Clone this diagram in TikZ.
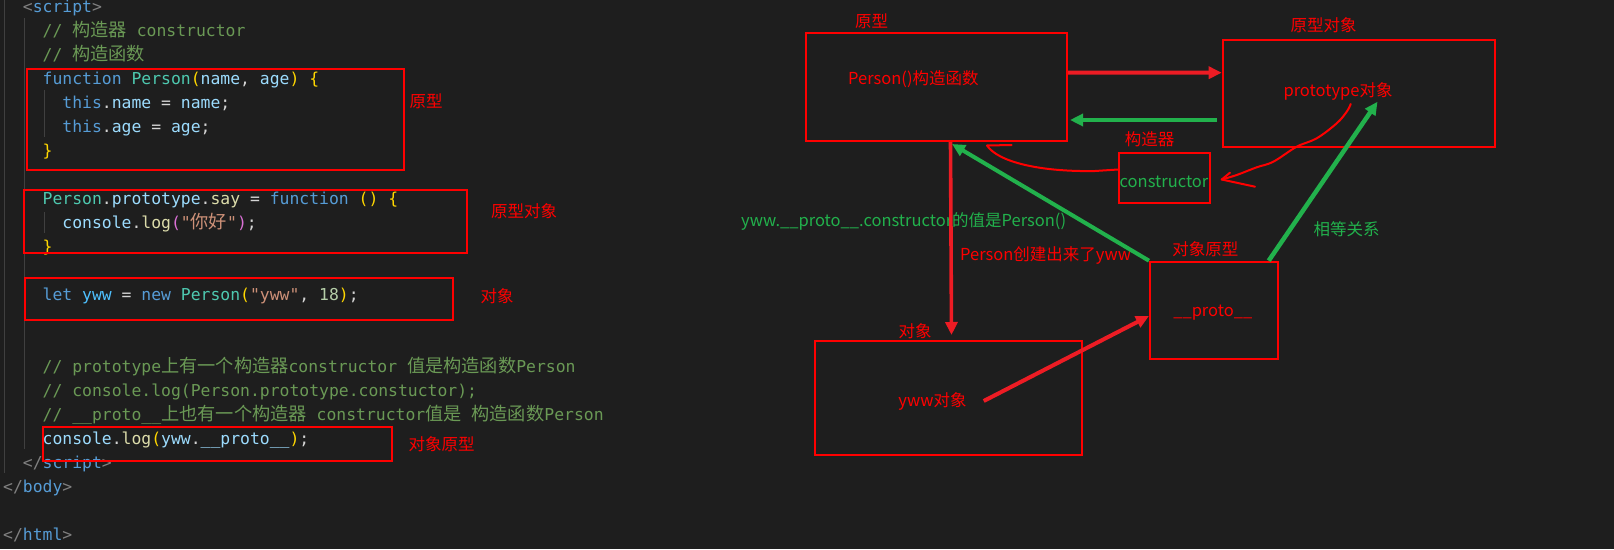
\documentclass[tikz,border=0pt]{standalone}
\usepackage{fontspec}
\setmonofont{DejaVu Sans Mono}
\newfontfamily\codezh[Scale=1.11]{Noto Sans CJK SC}
\newfontfamily\rzh{Noto Sans CJK SC}
\usetikzlibrary{arrows.meta,calc}
\definecolor{bg}{HTML}{1E1E1E}
\definecolor{guide}{HTML}{404040}
\definecolor{ckw}{HTML}{569CD6}
\definecolor{ccls}{HTML}{4EC9B0}
\definecolor{cvar}{HTML}{9CDCFE}
\definecolor{cfn}{HTML}{DCDCAA}
\definecolor{cstr}{HTML}{CE9178}
\definecolor{cnum}{HTML}{B5CEA8}
\definecolor{ccom}{HTML}{6A9955}
\definecolor{cpun}{HTML}{D4D4D4}
\definecolor{cgold}{HTML}{FFD700}
\definecolor{corch}{HTML}{DA70D6}
\definecolor{ctag}{HTML}{808080}
\definecolor{cconst}{HTML}{4FC1FF}
\definecolor{bred}{HTML}{FF0000}
\definecolor{ared}{HTML}{ED1C24}
\definecolor{agreen}{HTML}{22B14C}
\newcommand{\zh}[1]{{\codezh #1}}
\begin{document}
\begin{tikzpicture}[x=1pt,y=-1pt,
  code/.style={anchor=base west, inner sep=0pt, text=cpun,
    font=\ttfamily\fontsize{16.4}{24}\selectfont},
  lab/.style={inner sep=0pt, text=bred, font=\rzh\fontsize{16.5}{20}\selectfont},
  glab/.style={lab, text=agreen},
  rbox/.style={draw=bred, line width=2pt, inner sep=0pt},
  guideline/.style={draw=guide, line width=1pt},
  rarrow/.style={draw=ared, line width=4pt, -{Triangle[length=13pt,width=12pt]}},
  garrow/.style={draw=agreen, line width=4pt, -{Triangle[length=13pt,width=12pt]}},
  hand/.style={draw=bred, line width=2pt, line cap=round, line join=round}
]
\fill[bg] (0,0) rectangle (1614,549);
\useasboundingbox (0,0) rectangle (1614,549);

% indent guides
\draw[guideline] (4.5,0) -- (4.5,473);
\draw[guideline] (24.5,18) -- (24.5,449);
\draw[guideline] (44.5,90) -- (44.5,137);
\draw[guideline] (44.5,212) -- (44.5,233);

% code lines
\node[code] (l0) at (22.7,12.7) {\textcolor{ctag}{<}\textcolor{ckw}{script}\textcolor{ctag}{>}};
\node[code] (l1) at (42.5,36.7) {\textcolor{ccom}{// \zh{构造器} constructor}};
\node[code] (l2) at (42.5,60.7) {\textcolor{ccom}{// \zh{构造函数}}};
\node[code] (l3) at (42.5,84.7) {\textcolor{ckw}{function} \textcolor{ccls}{Person}\textcolor{cgold}{(}\textcolor{cvar}{name}, \textcolor{cvar}{age}\textcolor{cgold}{)} \textcolor{cgold}{\{}};
\node[code] (l4) at (62.2,108.7) {\textcolor{ckw}{this}.\textcolor{cvar}{name} = \textcolor{cvar}{name};};
\node[code] (l5) at (62.2,132.7) {\textcolor{ckw}{this}.\textcolor{cvar}{age} = \textcolor{cvar}{age};};
\node[code] (l6) at (42.5,156.7) {\textcolor{cgold}{\}}};
\node[code] (l8) at (42.5,204.7) {\textcolor{ccls}{Person}.\textcolor{cvar}{prototype}.\textcolor{cfn}{say} = \textcolor{ckw}{function} \textcolor{cgold}{()} \textcolor{cgold}{\{}};
\node[code] (l9) at (62.2,228.7) {\textcolor{cvar}{console}.\textcolor{cfn}{log}\textcolor{corch}{(}\textcolor{cstr}{"\zh{你好}"}\textcolor{corch}{)};};
\node[code] (l10) at (42.5,252.7) {\textcolor{cgold}{\}}};
\node[code] (l12) at (42.5,300.7) {\textcolor{ckw}{let} \textcolor{cconst}{yww} = \textcolor{ckw}{new} \textcolor{ccls}{Person}\textcolor{cgold}{(}\textcolor{cstr}{"yww"}, \textcolor{cnum}{18}\textcolor{cgold}{)};};
\node[code] (l15) at (42.5,372.7) {\textcolor{ccom}{// prototype\zh{上有一个构造器}constructor \zh{值是构造函数}Person}};
\node[code] (l16) at (42.5,396.7) {\textcolor{ccom}{// console.log(Person.prototype.constuctor);}};
\node[code] (l17) at (42.5,420.7) {\textcolor{ccom}{// \_\_proto\_\_\zh{上也有一个构造器} constructor\zh{值是} \zh{构造函数}Person}};
\node[code] (l18) at (42.5,444.7) {\textcolor{cvar}{console}.\textcolor{cfn}{log}\textcolor{cgold}{(}\textcolor{cvar}{yww}.\textcolor{cvar}{\_\_proto\_\_}\textcolor{cgold}{)};};
\node[code] (l19) at (22.7,468.7) {\textcolor{ctag}{</}\textcolor{ckw}{script}\textcolor{ctag}{>}};
\node[code] (l20) at (3,492.7) {\textcolor{ctag}{</}\textcolor{ckw}{body}\textcolor{ctag}{>}};
\node[code] (l22) at (3,540.7) {\textcolor{ctag}{</}\textcolor{ckw}{html}\textcolor{ctag}{>}};

% code boxes and labels
\node[rbox, minimum width=377pt, minimum height=101pt] (c1) at (215.5,119.5) {};
\node[rbox, minimum width=443.7pt, minimum height=63.6pt] (c2) at (245.5,221.5) {};
\node[rbox, minimum width=427.8pt, minimum height=42.6pt] (c3) at (238.8,299) {};
\node[rbox, minimum width=348.8pt, minimum height=34pt] (c4) at (217.1,443.7) {};
\node[lab] (c1l) at (426,101) {原型};
\node[lab] (c2l) at (524,211) {原型对象};
\node[lab] (c3l) at (497,296) {对象};
\node[lab] (c4l) at (441.5,444.3) {对象原型};

% diagram boxes
\node[rbox, minimum width=261pt, minimum height=108pt] (b1) at (936.5,87) {};
\node[rbox, minimum width=272.6pt, minimum height=107.3pt] (b2) at (1359,93.35) {};
\node[rbox, minimum width=91pt, minimum height=50pt] (b3) at (1164.5,178) {};
\node[rbox, minimum width=128pt, minimum height=97.3pt] (b4) at (1214,310.35) {};
\node[rbox, minimum width=267.4pt, minimum height=114.6pt] (b5) at (948.3,398) {};

% diagram texts
\node[lab] (b1l) at (871.5,21) {原型};
\node[lab, anchor=west] (b1t) at (848,79) {Person()构造函数};
\node[lab] (b2l) at (1323.7,25) {原型对象};
\node[lab] (b2t) at (1338,91) {prototype对象};
\node[lab] (b3l) at (1149.5,139) {构造器};
\node[glab] (b3t) at (1164,181.7) {constructor};
\node[glab, anchor=west] (gnote) at (741,221) {yww.\_\_proto\_\_.constructor的值是Person()};
\node[lab, anchor=west] (rnote) at (960,255.5) {Person创建出来了yww};
\node[lab] (b4l) at (1205.4,249.5) {对象原型};
\node[lab] (b4t) at (1212.8,313) {\_\_proto\_\_};
\node[lab] (b5l) at (915,331) {对象};
\node[lab] (b5t) at (932.5,401) {yww对象};
\node[glab] (eq) at (1346.7,228.7) {相等关系};

% free ends
\coordinate (a3end) at (951.5,335);
\coordinate (a4end) at (952,144);
\coordinate (a6end) at (1377.5,101.7);
\coordinate (k1tip) at (987,145.5);
\coordinate (k1arm) at (1011.7,145);
\coordinate (k2start) at (1350.7,104);
\coordinate (k2tip) at (1221.7,179.5);

% thick arrows
\draw[rarrow] ([yshift=14.3pt]b1.east) -- ([yshift=20.65pt]b2.west);
\draw[garrow] ([xshift=-4.7pt,yshift=-26.65pt]b2.west) -- ([xshift=2pt,yshift=-33pt]b1.east);
\draw[rarrow, line width=3.6pt] ([xshift=14pt]b1.south) -- (a3end);
\draw[garrow] (b4.north west) -- (a4end);
\draw[rarrow] ([xshift=17pt]b5t.east) -- ([yshift=-5.6pt]b4.west);
\draw[garrow, line width=4.5pt] ([xshift=-10.3pt]b4.north east) -- (a6end);

% hand-drawn curves
\draw[hand] ([yshift=8.5pt]b3.west) -- (1095,171) .. controls (1040,172) and (998,162) .. (k1tip) -- (k1arm);
\draw[hand] plot[smooth, tension=0.6] coordinates {(k2start) (1346.7,111.7) (1336.7,123.3) (1316.7,138.3) (1296.7,146.7) (1273.3,161.7) (1256.7,167.3) (1236.7,175) (k2tip)};
\draw[hand] (1230,172.7) -- (k2tip) -- (1255,186.7);
\end{tikzpicture}
\end{document}
